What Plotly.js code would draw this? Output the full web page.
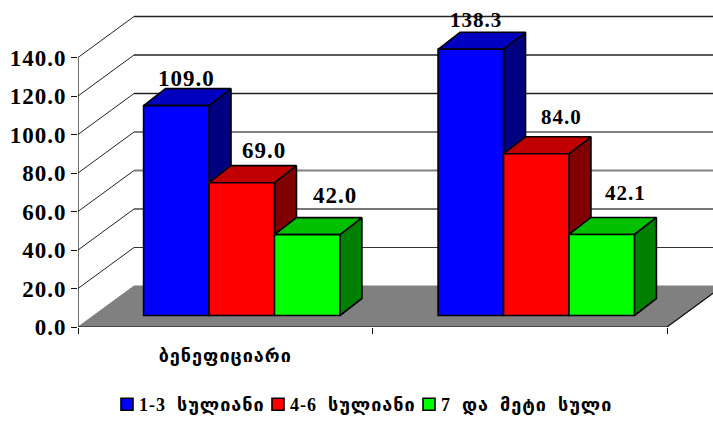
<!DOCTYPE html>
<html><head><meta charset="utf-8">
<script src="https://cdn.plot.ly/plotly-3.0.1.min.js"></script>
<style>html,body{margin:0;padding:0;background:#fff}#c{width:713px;height:421px}
text{letter-spacing:1px}
.legendtext{transform:translateX(-8px)}
.legend .scrollbox{clip-path:none!important}</style></head>
<body><div id="c"></div>
<script>
var categories = ["ბენეფიციარი", ""];
var seriesNames = ["1-3\u00a0\u00a0სულიანი", "4-6\u00a0\u00a0სულიანი", "7\u00a0\u00a0და\u00a0\u00a0მეტი\u00a0\u00a0სული"];
var series1 = [109.0, 138.3];
var series2 = [69.0, 84.0];
var series3 = [42.0, 42.1];
var frontColors = ["#0000FF", "#FF0000", "#00FF00"];
var topColors = ["#0000C0", "#C00000", "#00C000"];
var sideColors = ["#000080", "#800000", "#008000"];
var yTicks = [0, 20, 40, 60, 80, 100, 120, 140];
var gridColors = ["#808080", "#333333", "#777777", "#808080", "#808080", "#222222", "#222222", "#222222"];
var gridWidths = [0, 1, 2, 2, 2, 1.4, 1.4, 1.4];
var labelDx = [[10.5, 22, 28], [5, 25, 24]];
var labelDy = [[-13, -18, -25], [-15, -23, -27]];
var labelSizes = [23, 21];

var W = 713, H = 421, L = 78, B = 94, T = 6;
var pxX = 294.5, pxY = 1.925;
var xMax = (W - L) / pxX, yMax = (H - B - T) / pxY;
var wallDx = 56 / pxX, wallDy = 41 / pxY;
var barShift = 16.5 / pxX, barBase = 11.5 / pxY;
var depthX = 22 / pxX, depthY = 17 / pxY;
var barW = (2 / 3) / 3;
var allSeries = [series1, series2, series3];
var catX = categories.map(function (c, i) { return i + 0.5; });
var barX = catX.map(function (x) { return x + barShift; });
var traces = [];
var EDGE = "#000";

// gridlines on the side and back walls
yTicks.forEach(function (v, i) {
  if (v === 0) return;
  traces.push({ type: "scatter", mode: "lines", showlegend: false, hoverinfo: "skip",
    x: [wallDx, 2 + wallDx], y: [v + wallDy, v + wallDy],
    line: { color: gridColors[i], width: gridWidths[i] } });
  traces.push({ type: "scatter", mode: "lines", showlegend: false, hoverinfo: "skip",
    x: [0, wallDx], y: [v, v + wallDy], line: { color: "#222", width: 1 } });
});
// floor
traces.push({ type: "scatter", mode: "lines", fill: "toself", fillcolor: "#808080", showlegend: false, hoverinfo: "skip",
  x: [0, 2, 2 + wallDx, wallDx, 0], y: [0, 0, wallDy, wallDy, 0], line: { color: "#808080", width: 1 } });
traces.push({ type: "scatter", mode: "lines", showlegend: false, hoverinfo: "skip",
  x: [0, 2, 2 + wallDx], y: [0, 0, wallDy], line: { color: "#111", width: 1.2 } });
// left axis line
traces.push({ type: "scatter", mode: "lines", showlegend: false, hoverinfo: "skip",
  x: [0, 0], y: [0, yTicks[yTicks.length - 1]], line: { color: "#111", width: 1.2 } });

// side and top faces of the bars
allSeries.forEach(function (vals, s) {
  var sx = [], sy = [], tx = [], ty = [];
  vals.forEach(function (v, g) {
    var x1 = barX[g] - 1.5 * barW + s * barW, x2 = x1 + barW, top = barBase + v;
    sx.push(x2, x2 + depthX, x2 + depthX, x2, x2, null);
    sy.push(barBase, barBase + depthY, top + depthY, top, barBase, null);
    tx.push(x1, x2, x2 + depthX, x1 + depthX, x1, null);
    ty.push(top, top, top + depthY, top + depthY, top, null);
  });
  traces.push({ type: "scatter", mode: "lines", fill: "toself", fillcolor: sideColors[s], showlegend: false, hoverinfo: "skip",
    x: sx, y: sy, line: { color: EDGE, width: 1.6 } });
  traces.push({ type: "scatter", mode: "lines", fill: "toself", fillcolor: topColors[s], showlegend: false, hoverinfo: "skip",
    x: tx, y: ty, line: { color: EDGE, width: 1.6 } });
});

// front faces on an overlaid subplot, carrying the legend
allSeries.forEach(function (vals, s) {
  traces.push({ type: "bar", name: seriesNames[s], x: barX, y: vals, base: barBase, yaxis: "y2",
    marker: { color: frontColors[s], line: { color: "#000", width: 1.6 } } });
});

var annotations = [];
allSeries.forEach(function (vals, s) {
  vals.forEach(function (v, g) {
    annotations.push({ x: barX[g] - barW + s * barW, y: barBase + v, yref: "y", xref: "x",
      text: v.toFixed(1), showarrow: false, xanchor: "center", yanchor: "bottom",
      xshift: labelDx[g][s], yshift: -labelDy[g][s],
      font: { family: "Liberation Serif", size: labelSizes[g], color: "#000", weight: 700 } });
  });
});

var layout = {
  width: W, height: H, showlegend: true,
  margin: { l: L, r: 0, t: T, b: B, autoexpand: false },
  paper_bgcolor: "#fff", plot_bgcolor: "#fff",
  bargap: 1 / 3, bargroupgap: 0, barmode: "group",
  font: { family: "Liberation Serif, DejaVu Sans", color: "#000" },
  xaxis: { range: [0, xMax], showgrid: false, zeroline: false, showline: false,
    tickmode: "array", tickvals: catX, ticktext: categories, ticklen: 0, ticks: "",
    ticklabelstandoff: 16,
    tickfont: { family: "DejaVu Sans", size: 18, weight: 700, color: "#000" },
    minor: { tickvals: [0, 1, 2], ticks: "outside", ticklen: 6, tickwidth: 1, tickcolor: "#111" } },
  yaxis: { range: [0, yMax], showgrid: false, zeroline: false, showline: false,
    tickmode: "array", tickvals: yTicks, tickformat: ".1f", ticks: "outside", ticklen: 6, tickwidth: 1, tickcolor: "#111",
    tickfont: { family: "Liberation Serif", size: 23, weight: 700, color: "#000" } },
  yaxis2: { range: [0, yMax], overlaying: "y", visible: false },
  legend: { orientation: "h", xref: "container", yref: "container", x: 114 / W, y: 1 - 386 / H,
    xanchor: "left", yanchor: "top", traceorder: "normal", indentation: -7,
    entrywidth: 113, entrywidthmode: "pixels",
    font: { family: "Liberation Serif, DejaVu Sans", size: 18, weight: 700, color: "#000" } },
  annotations: annotations
};
Plotly.newPlot("c", traces, layout, { displayModeBar: false, staticPlot: true });
</script></body></html>
